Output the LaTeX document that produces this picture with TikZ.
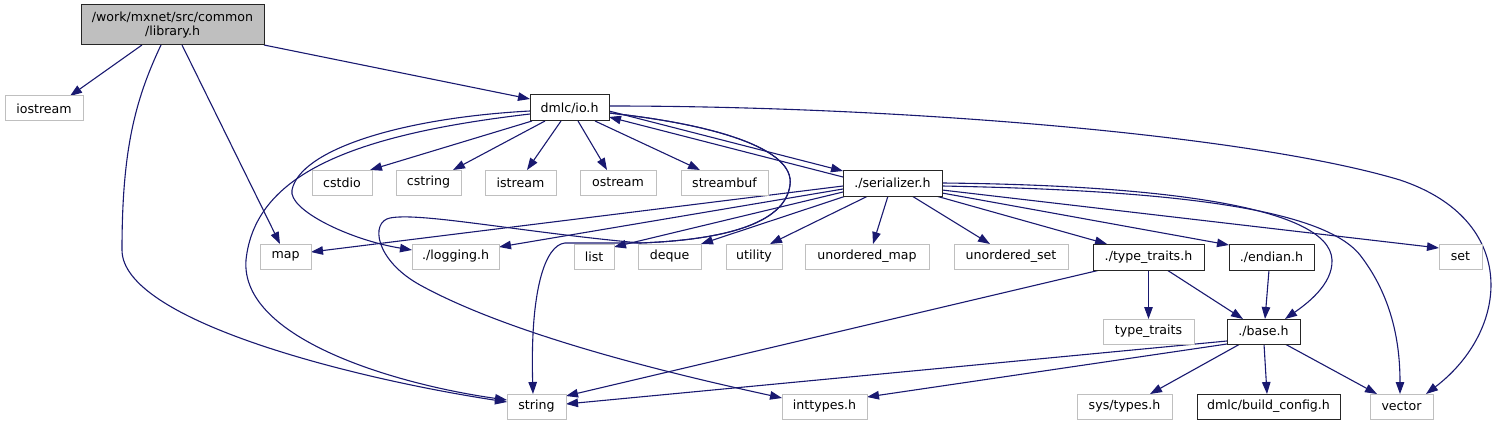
\documentclass[tikz,border=0pt]{standalone}
\usepackage{fontspec}
\newfontfamily\dv{DejaVu Sans}
\usetikzlibrary{arrows.meta,calc}
\definecolor{edgec}{HTML}{191970}
\definecolor{greyb}{HTML}{BFBFBF}
\pgfdeclarelayer{bg}
\pgfsetlayers{bg,main}
\tikzset{
  ext/.style={draw=greyb, line width=1pt, fill=white, inner sep=0pt, minimum height=25pt,
    font=\dv\fontsize{12.6}{14}\selectfont, text=black},
  doc/.style={ext, draw=black!85},
  e/.style={draw=edgec, line width=1.1pt, -{Triangle[length=12pt,width=8.5pt]}}
}
\begin{document}
\begin{tikzpicture}[x=1pt,y=-1pt]
\useasboundingbox (0,0) rectangle (1512,425);
% nodes
\node[doc, fill=greyb, minimum width=183pt, minimum height=40pt, align=center] (lib) at (172.5,25) {/work/mxnet/src/common\\/library.h};
\node[ext, minimum width=78pt] (iostream) at (44,108.5) {iostream};
\node[doc, minimum width=79pt, minimum height=26pt] (io) at (569.5,108) {dmlc/io.h};
\node[ext, minimum width=60pt] (cstdio) at (342,182.5) {cstdio};
\node[ext, minimum width=65pt] (cstring) at (428.5,182.5) {cstring};
\node[ext, minimum width=71pt] (istream) at (520.5,182.5) {istream};
\node[ext, minimum width=76pt] (ostream) at (618,182.5) {ostream};
\node[ext, minimum width=87pt] (streambuf) at (724.5,182.5) {streambuf};
\node[doc, minimum width=99pt, minimum height=26pt] (ser) at (892.5,183) {./serializer.h};
\node[ext, minimum width=51pt] (map) at (285.5,256.5) {map};
\node[ext, minimum width=87pt] (logging) at (455.5,256.5) {./logging.h};
\node[ext, minimum width=40pt] (list) at (594,256.5) {list};
\node[ext, minimum width=63pt] (deque) at (669.5,256.5) {deque};
\node[ext, minimum width=56pt] (utility) at (754,256.5) {utility};
\node[ext, minimum width=124pt] (umap) at (867,256.5) {unordered\_map};
\node[ext, minimum width=114pt] (uset) at (1011,256.5) {unordered\_set};
\node[doc, minimum width=111pt, minimum height=26pt] (tth) at (1148.5,257) {./type\_traits.h};
\node[doc, minimum width=85pt, minimum height=26pt] (endian) at (1271.5,257) {./endian.h};
\node[ext, minimum width=43pt] (set) at (1460.5,256.5) {set};
\node[ext, minimum width=91pt] (tt) at (1148.5,331.5) {type\_traits};
\node[doc, minimum width=73pt] (base) at (1263.5,331.5) {./base.h};
\node[ext, minimum width=59pt] (string) at (536.5,406.5) {string};
\node[ext, minimum width=85pt] (inttypes) at (824.5,406.5) {inttypes.h};
\node[ext, minimum width=95pt] (systypes) at (1124.5,406.5) {sys/types.h};
\node[doc, minimum width=143pt] (buildcfg) at (1268.5,406.5) {dmlc/build\_config.h};
\node[ext, minimum width=63pt] (vector) at (1401.5,406.5) {vector};
% edges
\begin{pgfonlayer}{bg}
% library.h
\draw[e] ($(lib)+(-30.5,20)$) -- ($(iostream)+(26,-12.5)$);
\draw[e] ($(lib)+(-11.5,20)$) .. controls (135,100) and (122,150) .. (122,250) .. controls (122,320) and (350,378) .. ($(string)+(-29.5,-4.5)$);
\draw[e] ($(lib)+(9.5,20)$) -- ($(map)+(-5.5,-12.5)$);
\draw[e] ($(lib)+(91.5,20)$) -- ($(io)+(-39.5,-9)$);
% dmlc/io.h
\draw[e] ($(io)+(-37.5,13)$) -- ($(cstdio)+(28,-12.5)$);
\draw[e] ($(io)+(-24.5,13)$) -- ($(cstring)+(24.5,-12.5)$);
\draw[e] ($(io)+(-8.5,13)$) -- ($(istream)+(6.5,-12.5)$);
\draw[e] ($(io)+(8.5,13)$) -- ($(ostream)+(-11,-12.5)$);
\draw[e] ($(io)+(25.5,13)$) -- ($(streambuf)+(-24.5,-12.5)$);
\draw[e] ($(io)+(39.5,3)$) -- ($(ser)+(-49.5,-12)$);
\draw[e] ($(ser)+(-49.5,-6)$) -- ($(io)+(39.5,9)$);
\draw[e] ($(io)+(-39.5,3)$) .. controls (400,118) and (300,150) .. (292,190) .. controls (288,210) and (350,240) .. ($(logging)+(-43.5,-6.5)$);
\draw[e] ($(io)+(-39.5,6)$) .. controls (350,135) and (255,175) .. (246,260) .. controls (240,340) and (400,385) .. ($(string)+(-29.5,-6.5)$);
\draw[e] ($(io)+(39.5,-2)$) .. controls (900,106) and (1250,135) .. (1400,180) .. controls (1520,220) and (1510,330) .. ($(vector)+(24.5,-12.5)$);
\draw[e] ($(io)+(39.5,5)$) .. controls (720,125) and (795,150) .. (790,185) .. controls (785,225) and (720,240) .. (640,243) .. controls (520,232) and (420,212) .. (390,218) .. controls (370,222) and (375,260) .. (420,285) .. controls (520,340) and (700,380) .. ($(inttypes)+(-42.5,-8.5)$);
\draw[e] ($(io)+(39.5,5)$) .. controls (720,125) and (795,150) .. (790,185) .. controls (785,225) and (720,240) .. (640,243) -- (565,243) .. controls (545,245) and (530,290) .. ($(string)+(-3.5,-12.5)$);
% serializer.h
\draw[e] ($(ser)+(-49.5,3)$) -- ($(map)+(25.5,-4.5)$);
\draw[e] ($(ser)+(-49.5,6)$) -- ($(logging)+(43.5,-9.5)$);
\draw[e] ($(ser)+(-49.5,9)$) -- ($(list)+(20,-9.5)$);
\draw[e] ($(ser)+(-46.5,13)$) -- ($(deque)+(31.5,-12.5)$);
\draw[e] ($(ser)+(-24.5,13)$) -- ($(utility)+(16,-12.5)$);
\draw[e] ($(ser)+(-4.5,13)$) -- ($(umap)+(6,-12.5)$);
\draw[e] ($(ser)+(19.5,13)$) -- ($(uset)+(-21,-12.5)$);
\draw[e] ($(ser)+(43.5,13)$) -- ($(tth)+(-41.5,-13)$);
\draw[e] ($(ser)+(49.5,10)$) -- ($(endian)+(-42.5,-12)$);
\draw[e] ($(ser)+(49.5,7)$) -- ($(set)+(-21.5,-8.5)$);
\draw[e] ($(ser)+(49.5,0)$) .. controls (1150,185) and (1330,205) .. (1332,260) .. controls (1333,285) and (1305,305) .. ($(base)+(21.5,-12.5)$);
\draw[e] ($(ser)+(49.5,3)$) .. controls (1150,190) and (1320,205) .. (1360,255) .. controls (1395,300) and (1400,350) .. ($(vector)+(-1.5,-12.5)$);
% type_traits.h, endian.h
\draw[e] ($(tth)+(-48.5,13)$) -- ($(string)+(29.5,-10.5)$);
\draw[e] ($(tth)+(0,13)$) -- ($(tt)+(0,-12.5)$);
\draw[e] ($(tth)+(18.5,13)$) -- ($(base)+(-20.5,-12.5)$);
\draw[e] ($(endian)+(-2.5,13)$) -- ($(base)+(1.5,-12.5)$);
% base.h
\draw[e] ($(base)+(-36.5,9.5)$) -- ($(string)+(29.5,-2.5)$);
\draw[e] ($(base)+(-36.5,12.5)$) -- ($(inttypes)+(42.5,-9.5)$);
\draw[e] ($(base)+(-23.5,12.5)$) -- ($(systypes)+(25.5,-12.5)$);
\draw[e] ($(base)+(0.5,12.5)$) -- ($(buildcfg)+(-1.5,-12.5)$);
\draw[e] ($(base)+(21.5,12.5)$) -- ($(vector)+(-24.5,-12.5)$);
\end{pgfonlayer}
\end{tikzpicture}
\end{document}
